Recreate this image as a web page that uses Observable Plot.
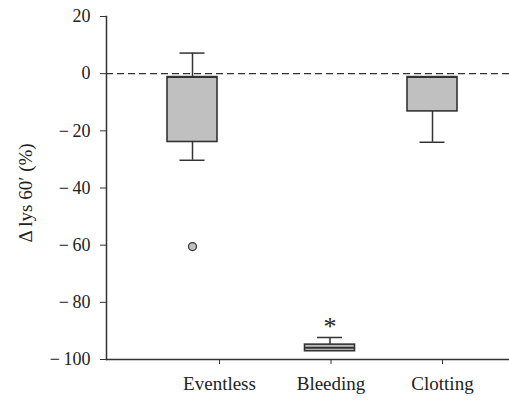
<!DOCTYPE html>
<html>
<head>
<meta charset="utf-8">
<script src="https://cdn.jsdelivr.net/npm/d3@7"></script>
<script src="https://cdn.jsdelivr.net/npm/@observablehq/plot@0.6"></script>
<style>
  html, body { margin: 0; padding: 0; background: #fff; }
</style>
</head>
<body>
<div id="chart"></div>
<script>
// ---- data ----
const categories  = ["Eventless", "Bleeding", "Clotting"];
const whiskerHigh = [7.2, -92.3, null];
const q3          = [-1.2, -94.8, -1.2];
const median      = [-1.2, -95.9, -1.2];
const q1          = [-23.9, -97.1, -13.2];
const whiskerLow  = [-30.3, null, -24.0];
const outlierCats   = ["Eventless"];
const outlierValues = [-60.5];
const starCats   = ["Bleeding"];
const starValues = [-86.5];
const yTicks = [20, 0, -20, -40, -60, -80, -100];
const yLabel = "Δ lys 60′ (%)";

// ---- layout (not data) ----
const boxShift = [-27, -1, -10];
const ink = "#333";
const textInk = "#222";
const boxFill = "#c0c0c0";
const serif = "Liberation Serif";

const boxes = categories.map((c, i) => ({
  cat: c, hi: whiskerHigh[i], q3: q3[i], med: median[i], q1: q1[i], lo: whiskerLow[i]
}));
const outliers = outlierCats.map((c, i) => ({cat: c, value: outlierValues[i]}));
const stars = starCats.map((c, i) => ({cat: c, value: starValues[i]}));

const marks = [
  Plot.ruleY([0], {stroke: ink, strokeWidth: 1.3, strokeDasharray: "7,4"}),
];

categories.forEach((c, i) => {
  const d = boxes.filter(b => b.cat === c);
  const dx = boxShift[i];
  const up = d.filter(b => b.hi != null);
  const dn = d.filter(b => b.lo != null);
  marks.push(
    Plot.ruleX(up, {x: "cat", y1: "q3", y2: "hi", stroke: ink, strokeWidth: 1.5, dx}),
    Plot.tickY(up, {x: "cat", y: "hi", stroke: ink, strokeWidth: 1.5, dx, insetLeft: 12.5, insetRight: 12.5}),
    Plot.ruleX(dn, {x: "cat", y1: "q1", y2: "lo", stroke: ink, strokeWidth: 1.5, dx}),
    Plot.tickY(dn, {x: "cat", y: "lo", stroke: ink, strokeWidth: 1.5, dx, insetLeft: 12.5, insetRight: 12.5}),
    Plot.barY(d, {x: "cat", y1: "q1", y2: "q3", fill: boxFill, stroke: ink, strokeWidth: 1.6, dx}),
    Plot.tickY(d, {x: "cat", y: "med", stroke: ink, strokeWidth: 2, dx}),
    Plot.dot(outliers.filter(o => o.cat === c), {x: "cat", y: "value", r: 4, fill: boxFill, stroke: ink, strokeWidth: 1.2, dx}),
    Plot.text(stars.filter(s => s.cat === c), {x: "cat", y: "value", text: () => "*", fontSize: 26, fontFamily: serif, fill: textInk, dx, dy: 6})
  );
});

marks.push(
  Plot.ruleY([-100], {stroke: ink, strokeWidth: 1.5}),
  Plot.frame({anchor: "left", stroke: ink, strokeWidth: 1.5}),
  Plot.axisY({ticks: yTicks, tickSize: 6, tickPadding: 10,
    tickFormat: d => d < 0 ? "\u2212\u2009" + Math.abs(d) : String(d),
    label: null, fontSize: 18, fontFamily: serif, stroke: ink, fill: textInk}),
  Plot.axisX({tickSize: 5, tickPadding: 12, label: null, fontSize: 19, fontFamily: serif, stroke: ink, fill: textInk}),
  Plot.text([yLabel], {frameAnchor: "left", text: d => d, rotate: -90, dx: -81, dy: 5, fontSize: 19, fontFamily: serif, fill: textInk, textAnchor: "middle"})
);

const chart = Plot.plot({
  width: 509,
  height: 400,
  marginLeft: 106,
  marginRight: 0,
  marginTop: 16,
  marginBottom: 41,
  style: {fontFamily: serif, background: "#fff", color: textInk},
  x: {type: "band", domain: categories, range: [132.5, 528.5], paddingInner: 0.5516, paddingOuter: 0.5516, round: false},
  y: {domain: [-100, 20]},
  marks
});
document.getElementById("chart").appendChild(chart);
</script>
</body>
</html>
